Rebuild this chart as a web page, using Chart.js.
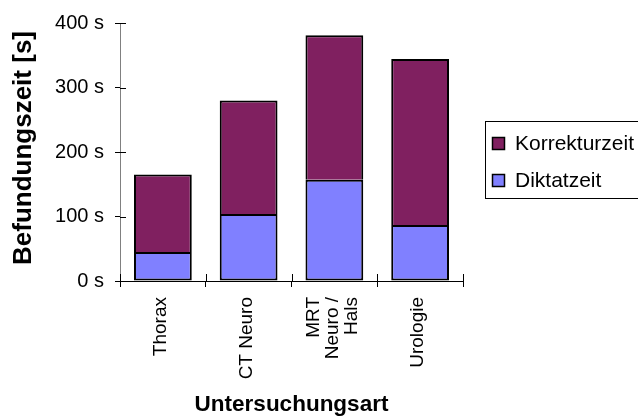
<!DOCTYPE html>
<html>
<head>
<meta charset="utf-8">
<script src="https://cdn.jsdelivr.net/npm/chart.js@4/dist/chart.umd.min.js"></script>
<style>
  html, body { margin: 0; padding: 0; background: #ffffff; }
  #wrap { width: 638px; height: 419px; position: relative; }
</style>
</head>
<body>
<div id="wrap"><canvas id="chart" width="638" height="419"></canvas></div>
<script>
// Category labels (one entry per line of the rotated axis label)
const categories = [['Thorax'], ['CT Neuro'], ['MRT', 'Neuro /', 'Hals'], ['Urologie']];
// Times in seconds
const diktatzeit = [45, 104, 157, 87];
const korrekturzeit = [120, 176, 224, 257];
const seriesNames = ['Diktatzeit', 'Korrekturzeit'];
const seriesColors = ['#8080FF', '#802060'];
const yTicks = [0, 100, 200, 300, 400];
const yTitle = 'Befundungszeit [s]';
const xTitle = 'Untersuchungsart';

const FONT = '"Liberation Sans", Arial, sans-serif';

// Cross-style tick marks, rotated category labels, axis titles and legend
const decorations = {
  id: 'decorations',
  afterDraw(chart) {
    const ctx = chart.ctx;
    const xs = chart.scales.x;
    const ys = chart.scales.y;
    const area = chart.chartArea;
    ctx.save();

    // inner halves of the tick marks
    ctx.strokeStyle = '#000000';
    ctx.lineWidth = 1;
    ctx.beginPath();
    ys.ticks.forEach((t, i) => {
      const y = Math.round(ys.getPixelForTick(i)) + 0.5;
      ctx.moveTo(area.left, y);
      ctx.lineTo(area.left + 6, y);
    });
    for (let i = 0; i <= chart.data.labels.length; i++) {
      const x = Math.round(xs.getPixelForValue(i - 0.5)) + 0.5;
      ctx.moveTo(x, area.bottom - 7);
      ctx.lineTo(x, area.bottom);
    }
    ctx.stroke();

    // rotated category labels
    ctx.fillStyle = '#000000';
    ctx.font = '19px ' + FONT;
    ctx.textAlign = 'right';
    ctx.textBaseline = 'middle';
    const lh = 19;
    chart.data.labels.forEach((lines, i) => {
      const cx = xs.getPixelForTick(i) - 2;
      ctx.save();
      ctx.translate(cx, area.bottom + 16);
      ctx.rotate(-Math.PI / 2);
      lines.forEach((line, j) => {
        ctx.fillText(line, 0, (j - (lines.length - 1) / 2) * lh);
      });
      ctx.restore();
    });

    // axis titles
    ctx.textAlign = 'center';
    ctx.textBaseline = 'alphabetic';
    ctx.font = 'bold 22.5px ' + FONT;
    ctx.fillText(xTitle, (area.left + area.right) / 2, 411);
    ctx.font = 'bold 26px ' + FONT;
    ctx.save();
    ctx.translate(31, 148);
    ctx.rotate(-Math.PI / 2);
    ctx.fillText(yTitle, 0, 0);
    ctx.restore();

    // legend
    ctx.strokeStyle = '#000000';
    ctx.lineWidth = 1;
    ctx.strokeRect(485.5, 121.5, 170, 77);
    ctx.font = '21px ' + FONT;
    ctx.textAlign = 'left';
    ctx.textBaseline = 'middle';
    const order = [1, 0];
    order.forEach((di, k) => {
      const ds = chart.data.datasets[di];
      const cy = 143.5 + k * 37;
      ctx.fillStyle = ds.backgroundColor;
      ctx.fillRect(492, cy - 6.5, 13, 13);
      ctx.lineWidth = 1.5;
      ctx.strokeRect(492.5, cy - 6, 12, 12);
      ctx.fillStyle = '#000000';
      ctx.fillText(ds.label, 515, cy + 1);
    });
    ctx.restore();
  }
};

new Chart(document.getElementById('chart'), {
  type: 'bar',
  data: {
    labels: categories,
    datasets: [
      {
        label: seriesNames[0],
        data: diktatzeit,
        backgroundColor: seriesColors[0],
        borderColor: '#000000',
        borderWidth: 2,
        borderSkipped: false
      },
      {
        label: seriesNames[1],
        data: korrekturzeit,
        backgroundColor: seriesColors[1],
        borderColor: '#000000',
        borderWidth: 2,
        borderSkipped: 'start'
      }
    ]
  },
  options: {
    responsive: false,
    animation: false,
    devicePixelRatio: 1,
    layout: { padding: { left: 0, right: 175, top: 23, bottom: 0 } },
    datasets: { bar: { barPercentage: 0.674, categoryPercentage: 1.0 } },
    plugins: {
      legend: { display: false },
      tooltip: { enabled: false },
      title: { display: false }
    },
    scales: {
      x: {
        stacked: true,
        afterFit(scale) { scale.height = 138; },
        grid: {
          drawOnChartArea: false,
          drawTicks: true,
          tickLength: 6,
          color: '#000000',
          offset: true
        },
        border: { display: true, color: '#000000', width: 1 },
        ticks: { display: false }
      },
      y: {
        stacked: true,
        min: 0,
        max: 400,
        afterFit(scale) { scale.width = 120; },
        afterBuildTicks(scale) { scale.ticks = yTicks.map(v => ({ value: v })); },
        grid: {
          drawOnChartArea: false,
          drawTicks: true,
          tickLength: 5,
          color: '#000000'
        },
        border: { display: true, color: '#808080', width: 1 },
        ticks: {
          color: '#000000',
          padding: 11,
          font: { family: FONT, size: 20 },
          callback: v => v + ' s'
        }
      }
    }
  },
  plugins: [decorations]
});
</script>
</body>
</html>
